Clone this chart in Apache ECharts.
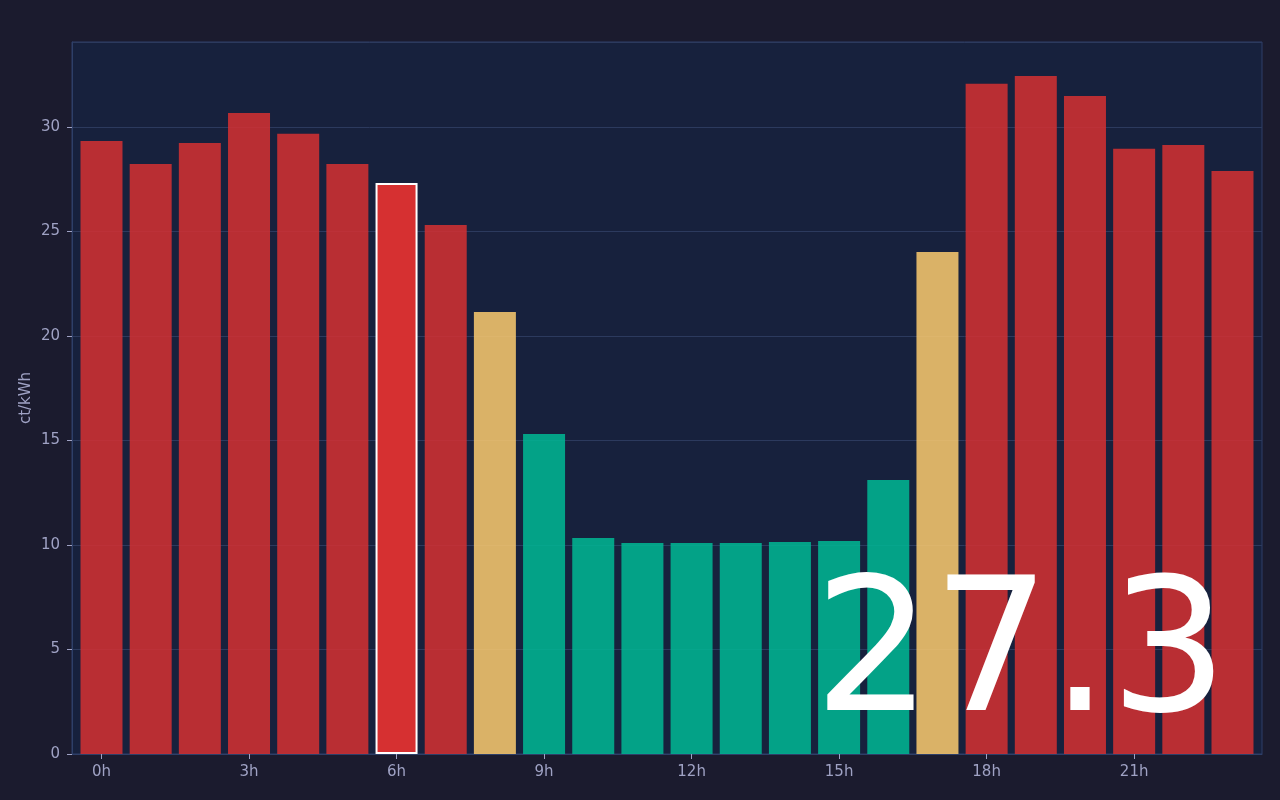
<!DOCTYPE html>
<html>
<head>
<meta charset="utf-8">
<style>
  html, body { margin: 0; padding: 0; background: #1b1b2e; }
  #chart { width: 1280px; height: 800px; }
</style>
<script src="https://cdn.jsdelivr.net/npm/echarts@6/dist/echarts.min.js"></script>
</head>
<body>
<div id="chart"></div>
<script>
  // hourly prices, ct/kWh
  const hours = [0, 1, 2, 3, 4, 5, 6, 7, 8, 9, 10, 11, 12, 13, 14, 15, 16, 17, 18, 19, 20, 21, 22, 23];
  const prices = [
    29.33, 28.23, 29.23, 30.67, 29.67, 28.23, 27.32, 25.31,
    21.15, 15.31, 10.33, 10.10, 10.10, 10.10, 10.14, 10.19,
    13.11, 24.02, 32.06, 32.44, 31.48, 28.95, 29.14, 27.89,
  ];
  const labelHours = [0, 3, 6, 9, 12, 15, 18, 21];
  const currentHour = 6;

  const dom = document.getElementById("chart");
  const myChart = echarts.init(dom, null, { renderer: "canvas" });

  function priceColor(v) {
    if (v < 18) return "#00b894";
    if (v < 25) return "#fdcb6e";
    return "#d63031";
  }

  const data = hours.map((h, i) => {
    const v = prices[i];
    if (h === currentHour) {
      return {
        value: [h, v],
        itemStyle: { color: priceColor(v), opacity: 1, borderColor: "#ffffff", borderWidth: 2 },
      };
    }
    return { value: [h, v], itemStyle: { color: priceColor(v), opacity: 0.85 } };
  });

  const labelColor = "#9fa2c4";

  const option = {
    backgroundColor: "#1b1b2e",
    animation: false,
    textStyle: { fontFamily: "DejaVu Sans" },
    grid: {
      left: 72,
      right: 18,
      top: 42,
      bottom: 46,
      show: true,
      backgroundColor: "#17213d",
      borderColor: "#2e3f68",
      borderWidth: 1,
    },
    xAxis: {
      type: "value",
      min: -0.6,
      max: 23.6,
      axisLine: { show: true, lineStyle: { color: "#2e3f68" } },
      axisTick: { show: true, length: 5, customValues: labelHours, lineStyle: { color: labelColor } },
      axisLabel: {
        customValues: labelHours,
        color: labelColor,
        fontSize: 15,
        margin: 11,
        formatter: (v) => v + "h",
      },
      splitLine: { show: false },
    },
    yAxis: {
      type: "value",
      min: 0,
      max: (v) => v.max * 1.05,
      interval: 5,
      name: "ct/kWh",
      nameLocation: "middle",
      nameGap: 38,
      nameMoveOverlap: false,
      nameTextStyle: { color: labelColor, fontSize: 15 },
      axisLine: { show: true, onZero: false, lineStyle: { color: "#2e3f68" } },
      axisTick: { show: true, length: 5, lineStyle: { color: labelColor } },
      axisLabel: { color: labelColor, fontSize: 15, margin: 12, showMaxLabel: false },
      splitLine: { show: true, lineStyle: { color: "#2c3a5e" } },
    },
    series: [
      {
        type: "bar",
        data: data,
        barWidth: 42,
        emphasis: { disabled: true },
      },
    ],
    graphic: [
      {
        type: "text",
        z: 100,
        x: 1228,
        y: 662,
        style: {
          text: prices[currentHour].toFixed(1),
          font: "186px 'DejaVu Sans'",
          fill: "#ffffff",
          textAlign: "right",
          textVerticalAlign: "middle",
        },
      },
    ],
  };

  myChart.setOption(option);
  window.addEventListener("resize", myChart.resize);
</script>
</body>
</html>
